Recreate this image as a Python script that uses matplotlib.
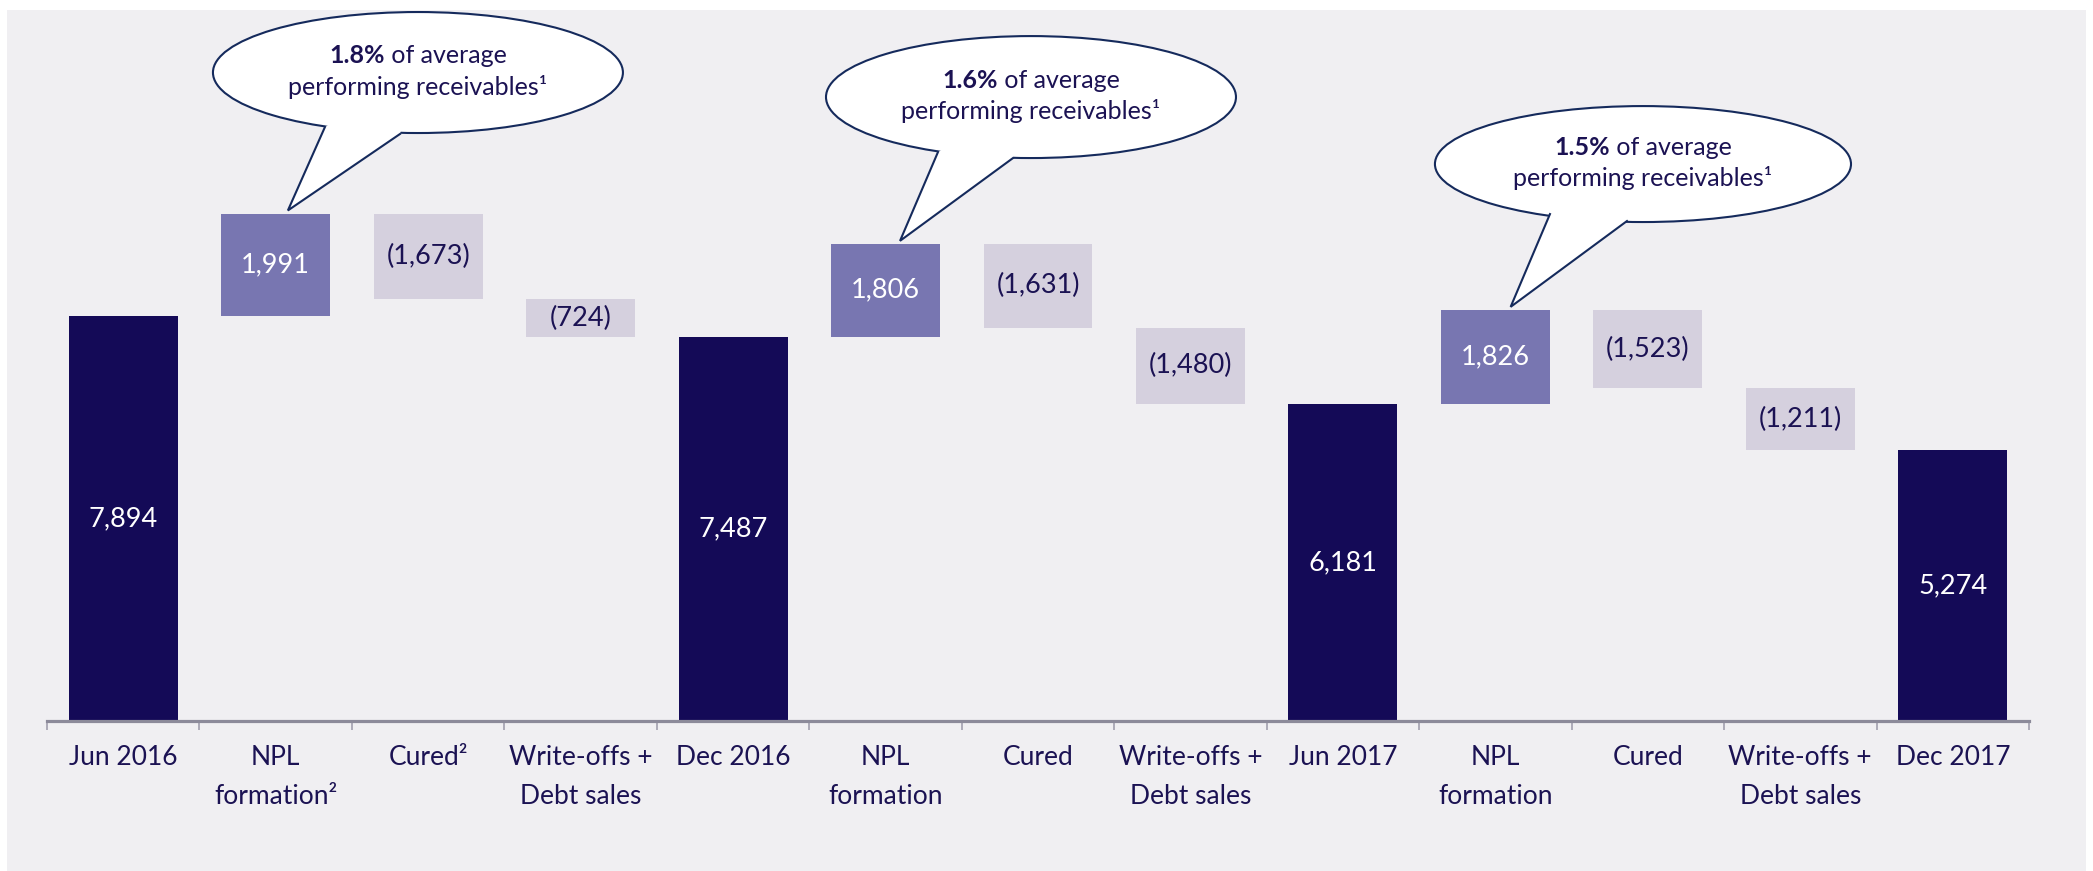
import matplotlib
matplotlib.use("Agg")
import matplotlib.pyplot as plt
from matplotlib.patches import Ellipse, Polygon, Rectangle
from matplotlib.transforms import IdentityTransform

# ---------------- data ----------------
categories = ["Jun 2016", "NPL\nformation²", "Cured²", "Write-offs +\nDebt sales",
              "Dec 2016", "NPL\nformation", "Cured", "Write-offs +\nDebt sales",
              "Jun 2017", "NPL\nformation", "Cured", "Write-offs +\nDebt sales",
              "Dec 2017"]
values = [7894, 1991, -1673, -724, 7487, 1806, -1631, -1480, 6181, 1826, -1523, -1211, 5274]
kinds = ["total", "up", "down", "down", "total", "up", "down", "down",
         "total", "up", "down", "down", "total"]
callout_pct = ["1.8%", "1.6%", "1.5%"]
callout_bars = [1, 5, 9]

# ---------------- style ----------------
NAVY = "#140a57"
PURPLE = "#7876b1"
LILAC = "#d5d0de"
PANEL = "#f0eff2"
TEXT = "#1b1253"
EDGE = "#152a5c"
FONT = "Lato"
plt.rcParams["font.family"] = [FONT, "DejaVu Sans"]

W, H = 2093, 871
fig = plt.figure(figsize=(W / 100, H / 100), dpi=100)
fig.patch.set_facecolor("white")
fig.patches.append(Rectangle((7 / W, 0), (2086 - 7) / W, (H - 10) / H,
                             transform=fig.transFigure, facecolor=PANEL,
                             edgecolor="none", zorder=-10))

ax = fig.add_axes([47 / W, 150 / H, 1982 / W, 711 / H])
ax.set_facecolor("none")
ax.set_xlim(-0.5, len(categories) - 0.5)
ax.set_ylim(0, 13850)

# waterfall geometry from data
bottoms, heights, colors = [], [], []
running = 0
for v, k in zip(values, kinds):
    if k == "total":
        bottoms.append(0); heights.append(v); colors.append(NAVY); running = v
    elif k == "up":
        bottoms.append(running); heights.append(v); colors.append(PURPLE); running += v
    else:
        running += v
        bottoms.append(running); heights.append(-v); colors.append(LILAC)

xs = list(range(len(categories)))
ax.bar(xs, heights, bottom=bottoms, width=0.714, color=colors, zorder=2)

for x, b, h, v, k in zip(xs, bottoms, heights, values, kinds):
    if k == "down":
        lab = "({:,})".format(-v); col = TEXT
    else:
        lab = "{:,}".format(v); col = "white"
    ax.text(x, b + h / 2, lab, ha="center", va="center", color=col,
            fontsize=19.5, zorder=3)

# axis styling
for s in ["top", "left", "right"]:
    ax.spines[s].set_visible(False)
ax.spines["bottom"].set_color("#8c8a9a")
ax.spines["bottom"].set_linewidth(2.3)
ax.set_yticks([])
ax.set_xticks(xs)
ax.set_xticklabels(categories, fontsize=19, color=TEXT, linespacing=1.72)
ax.tick_params(axis="x", which="major", length=0, pad=17)
ax.set_xticks([i - 0.5 for i in range(len(categories) + 1)], minor=True)
ax.tick_params(axis="x", which="minor", length=6.5, width=1.1, color="#9a98a8")

# callouts (ellipse centre, size, tail base points in data units, tip offset)
ell_geo = [
    dict(c=(1.933, 12632), w=2.689, h=2357, b1=(1.323, 11570), b2=(1.815, 11434), tipx=1.08),
    dict(c=(5.954, 12154), w=2.689, h=2376, b1=(5.344, 11083), b2=(5.836, 10966), tipx=5.095),
    dict(c=(9.968, 10849), w=2.729, h=2259, b1=(9.358, 9875), b2=(9.863, 9739), tipx=9.10),
]
fig.canvas.draw()
r = fig.canvas.get_renderer()
for pct, bi, g in zip(callout_pct, callout_bars, ell_geo):
    tip = (g["tipx"], bottoms[bi] + heights[bi] + 60)
    e = Ellipse(g["c"], g["w"], g["h"], facecolor="white", edgecolor=EDGE,
                linewidth=1.5, zorder=5)
    ax.add_patch(e)
    cx, cy = g["c"]
    inner1 = (g["b1"][0] + (cx - g["b1"][0]) * 0.15, g["b1"][1] + (cy - g["b1"][1]) * 0.15)
    inner2 = (g["b2"][0] + (cx - g["b2"][0]) * 0.15, g["b2"][1] + (cy - g["b2"][1]) * 0.15)
    ax.add_patch(Polygon([inner1, g["b1"], tip, g["b2"], inner2], closed=True,
                         facecolor="white", edgecolor="none", zorder=6))
    ax.plot([g["b1"][0], tip[0], g["b2"][0]], [g["b1"][1], tip[1], g["b2"][1]],
            color=EDGE, linewidth=1.5, zorder=7, solid_joinstyle="miter")

    px, py = ax.transData.transform((cx, cy))
    y1 = py + 17
    y2 = py - 14
    t_b = fig.text(0, 0, pct, fontsize=18, fontweight="bold", color=TEXT)
    t_n = fig.text(0, 0, " of average", fontsize=18, color=TEXT)
    w1 = t_b.get_window_extent(r).width
    w2 = t_n.get_window_extent(r).width
    t_b.remove(); t_n.remove()
    x0 = px - (w1 + w2) / 2
    fig.text(x0, y1, pct, fontsize=18, fontweight="bold", color=TEXT,
             transform=IdentityTransform(), va="center", ha="left", zorder=8)
    fig.text(x0 + w1, y1, " of average", fontsize=18, color=TEXT,
             transform=IdentityTransform(), va="center", ha="left", zorder=8)
    fig.text(px, y2, "performing receivables¹", fontsize=18, color=TEXT,
             transform=IdentityTransform(), va="center", ha="center", zorder=8)

fig.savefig("out.png", dpi=100)
